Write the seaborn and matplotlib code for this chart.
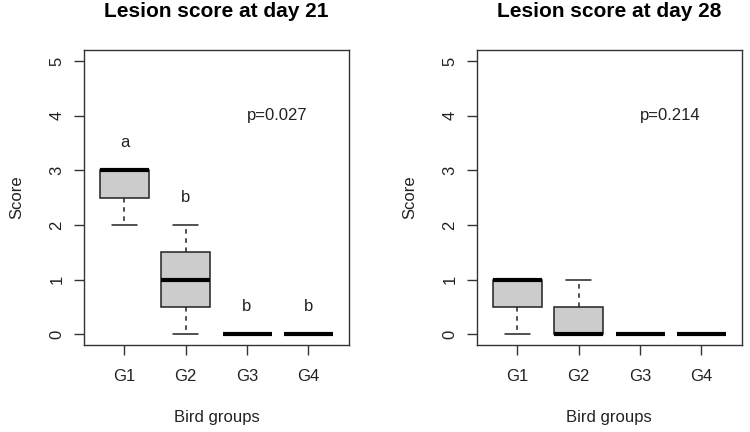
import seaborn as sns
import matplotlib.pyplot as plt
import pandas as pd

sns.set_style("white")
plt.rcParams["font.family"] = ["Liberation Sans", "DejaVu Sans"]

# Raw lesion scores per bird group
groups = ["G1", "G2", "G3", "G4"]
day21_scores = {"G1": [2, 3, 3], "G2": [0, 1, 2], "G3": [0, 0, 0], "G4": [0, 0, 0]}
day28_scores = {"G1": [0, 1, 1], "G2": [0, 0, 1], "G3": [0, 0, 0], "G4": [0, 0, 0]}
day21_letters = ["a", "b", "b", "b"]
day21_letter_y = [3.5, 2.5, 0.5, 0.5]
titles = ["Lesion score at day 21", "Lesion score at day 28"]
pvalues = ["p=0.027", "p=0.214"]


def to_long(scores):
    rows = [(g, s) for g in groups for s in scores[g]]
    return pd.DataFrame(rows, columns=["Group", "Score"])


fig = plt.figure(figsize=(7.5, 4.32), dpi=100)
ax1 = fig.add_axes([0.112, 0.201, 0.353, 0.683])
ax2 = fig.add_axes([0.636, 0.201, 0.353, 0.683])

for ax, scores, title, p in zip([ax1, ax2], [day21_scores, day28_scores], titles, pvalues):
    sns.boxplot(
        data=to_long(scores), x="Group", y="Score", order=groups, ax=ax,
        color="#cccccc", linecolor="#222222", linewidth=1.1, width=0.8,
        fliersize=0, saturation=1,
        whiskerprops=dict(linestyle=(0, (3, 3))),
        medianprops=dict(color="black", linewidth=3, solid_capstyle="butt"),
    )
    ax.set_xlim(-0.66, 3.66)
    ax.set_ylim(-0.2, 5.2)
    ax.set_yticks(range(6))
    ax.set_yticklabels([str(i) for i in range(6)], rotation=90, va="center")
    ax.tick_params(axis="both", direction="out", length=7, width=1, color="#333333",
                   labelsize=12, labelcolor="#222222", bottom=True, left=True)
    ax.tick_params(axis="x", pad=10)
    ax.tick_params(axis="y", pad=7)
    for s in ax.spines.values():
        s.set_visible(True)
        s.set_color("#333333")
        s.set_linewidth(1)
    ax.set_xlabel("Bird groups", fontsize=12, color="#222222", labelpad=19)
    ax.set_ylabel("Score", fontsize=12, color="#222222", labelpad=18)
    ax.set_title(title, fontsize=15, fontweight="bold", color="black", pad=24)
    ax.text(2.5, 4.0, p, ha="center", va="center", fontsize=12, color="#222222")

for i, (lab, y) in enumerate(zip(day21_letters, day21_letter_y)):
    ax1.text(i, y, lab, ha="center", va="center", fontsize=12, color="#222222")

fig.savefig("out.png", dpi=100)
plt.close(fig)
